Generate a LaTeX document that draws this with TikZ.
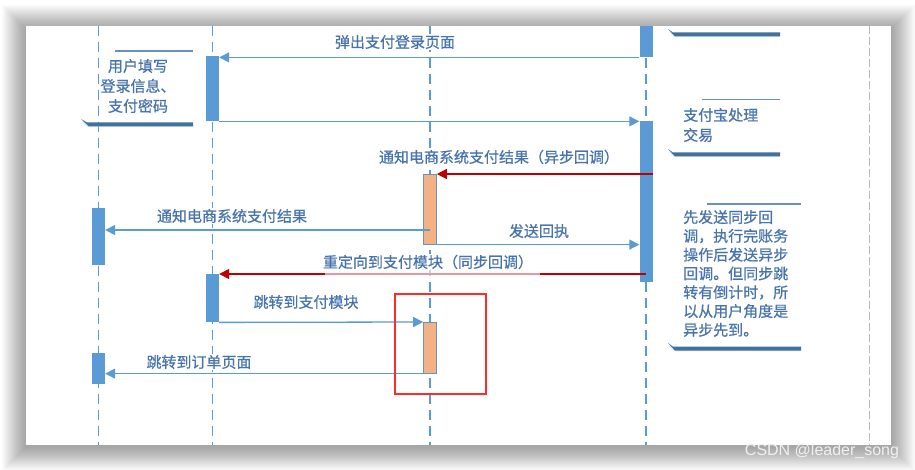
\documentclass[tikz,border=0pt]{standalone}
\usepackage{fontspec}
\newfontfamily\cjk[FakeBold=0.7]{Noto Sans CJK SC}
\newfontfamily\wm{Liberation Sans}
\usetikzlibrary{arrows.meta,calc}
\definecolor{lblue}{HTML}{5B9BD5}
\definecolor{txtblue}{HTML}{4774AD}
\definecolor{notedark}{HTML}{41719C}
\definecolor{notethin}{HTML}{6A90BC}
\definecolor{darkred}{HTML}{C00000}
\definecolor{orangefill}{HTML}{F4B183}
\definecolor{boxred}{HTML}{FF2A2A}
\begin{document}
\begin{tikzpicture}[x=1pt,y=-1pt,
  lifeline/.style={lblue, line width=1.2pt, dash pattern=on 10pt off 6pt},
  actbar/.style={fill=lblue, draw=none, minimum width=13pt, inner sep=0pt, anchor=north},
  orbar/.style={fill=orangefill, draw=lblue!80!gray, line width=0.6pt, minimum width=13pt, inner sep=0pt, anchor=north},
  msg/.style={lblue, line width=1.3pt, -{Triangle[length=10pt,width=10pt]}},
  redmsg/.style={darkred, line width=1.3pt, -{Triangle[length=10pt,width=10pt]}},
  lbl/.style={text=txtblue, fill=white, font=\cjk\fontsize{15pt}{18pt}\selectfont, inner sep=1pt},
  notetxt/.style={text=txtblue, inner sep=0pt},
  notebar/.style={fill=notedark, draw=none},
  noteglow/.style={draw=lblue!35, line width=2.5pt, opacity=0.5},
  notetop/.style={notethin, line width=1.3pt}
]
\useasboundingbox (0,0) rectangle (915,470);
\fill[white] (0,0) rectangle (915,470);
% card shadow
\foreach \i in {1,...,24}{
  \fill[black, opacity=0.014] (26-\i,26-\i+3) rectangle (891+\i,445+\i+2);
}
\fill[white] (26,26) rectangle (891,445);

% lifelines
\coordinate (L1t) at (98.5,26);  \coordinate (L1b) at (98.5,445);
\coordinate (L2t) at (212.5,26); \coordinate (L2b) at (212.5,445);
\coordinate (L3t) at (430,26);   \coordinate (L3b) at (430,445);
\coordinate (L4t) at (646,26);   \coordinate (L4b) at (646,445);
\coordinate (L5t) at (869,26);   \coordinate (L5b) at (869,445);
\draw[lifeline] (L1t) -- (L1b);
\draw[lifeline] (L2t) -- (L2b);
\draw[lifeline] (L3t) -- (L3b);
\draw[lifeline] (L4t) -- (L4b);
\draw[gray!55, line width=1pt, dash pattern=on 8pt off 3pt] (L5t) -- (L5b);

% activation bars
\node[actbar, minimum height=31pt] (b4a) at (646,26) {};
\node[actbar, minimum height=161pt] (b4b) at (646,121) {};
\node[actbar, minimum height=65pt] (b2a) at (212.5,56) {};
\node[actbar, minimum height=48pt] (b2b) at (212.5,274) {};
\node[actbar, minimum height=57pt] (b1a) at (98.5,208) {};
\node[actbar, minimum height=31pt] (b1b) at (98.5,353) {};
\node[orbar, minimum height=70pt] (o1) at (430,174) {};
\node[orbar, minimum height=51pt] (o2) at (430,322) {};

% messages
\draw[msg] (b4a.south west) -- (b4a.south west -| b2a.east);
\draw[msg] (b2a.south east) -- (b2a.south east -| b4b.west);
\draw[redmsg] (b4b.east |- o1.north) -- (o1.north east);
\coordinate (m4) at ($(b1a.north east)+(0,22)$);
\draw[msg] (m4 -| o1.center) -- (m4);
\draw[msg] (o1.south east) -- (o1.south east -| b4b.west);
\draw[redmsg] (b4b.center |- b2b.north east) -- (b2b.north east);
\fill[white, opacity=0.6] (325,270) rectangle (540,276);
\draw[msg] (b2b.south east) -- (o2.north west);
\draw[msg] (o2.south west) -- (o2.south west -| b1b.east);

% message labels
\node[lbl] (t1) at (395,42) {弹出支付登录页面};
\node[lbl] (t3) at (499,157) {通知电商系统支付结果（异步回调）};
\node[lbl] (t4) at (232,216) {通知电商系统支付结果};
\node[lbl] (t5) at (539,231) {发送回执};
\node[lbl] (t6) at (428,262) {重定向到支付模块（同步回调）};
\node[lbl] (t7) at (306,302) {跳转到支付模块};
\node[lbl] (t8) at (199,362) {跳转到订单页面};

% red highlight box
\node[draw=boxred, line width=2pt, minimum width=91pt, minimum height=100pt, inner sep=0pt, anchor=north west] (hl) at (394,293) {};

% note 1
\node[notetxt, align=center, font=\cjk\fontsize{15pt}{20pt}\selectfont] (n1) at (138,86) {用户填写\\登录信息、\\支付密码};
\draw[notetop] (115,51) -- (193,51);
\draw[noteglow] (83,122) -- (88,126) -- (193,126);
\fill[notebar] (81,119) -- (87,122.5) -- (193,122.5) -- (193,126.5) -- (89,126.5) -- cycle;

% note 2 (top, cut off)
\draw[noteglow] (670,32) -- (675,36) -- (780,36);
\fill[notebar] (668,29) -- (673,32.5) -- (780,32.5) -- (780,36.5) -- (675,36.5) -- cycle;

% note 3
\node[notetxt, align=left, anchor=west, font=\cjk\fontsize{15pt}{20pt}\selectfont] (n3) at (683,125) {支付宝处理\\交易};
\draw[notetop] (702,99.7) -- (780,99.7);
\draw[noteglow] (670,152) -- (675,156) -- (780,156);
\fill[notebar] (668,149) -- (673,152.5) -- (780,152.5) -- (780,156.5) -- (675,156.5) -- cycle;

% note 4
\node[notetxt, align=left, anchor=west, font=\cjk\fontsize{15pt}{18.8pt}\selectfont] (n4) at (683,273.5) {先发送同步回\\调，执行完账务\\操作后发送异步\\回调。但同步跳\\转有倒计时，所\\以从用户角度是\\异步先到。};
\draw[notetop] (707,204) -- (801,204);
\draw[noteglow] (670,346) -- (675,350) -- (801,350);
\fill[notebar] (668,343) -- (673,346.7) -- (801,346.7) -- (801,350.7) -- (675,350.7) -- cycle;

% watermark
\node[text=white!88!gray, font=\wm\fontsize{16pt}{16pt}\selectfont, inner sep=0pt] (wmk) at (822,451) {CSDN @leader\_song};
\end{tikzpicture}
\end{document}
